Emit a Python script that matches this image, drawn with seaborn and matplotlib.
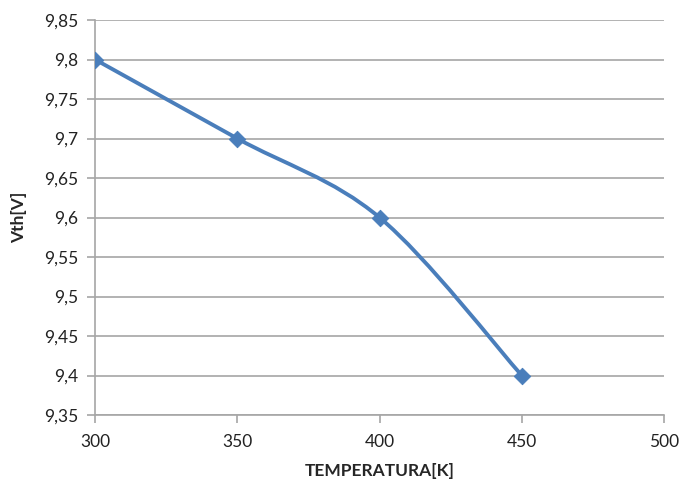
import numpy as np
import pandas as pd
import matplotlib
matplotlib.use("Agg")
import matplotlib.pyplot as plt
import seaborn as sns
from matplotlib.path import Path
from matplotlib.patches import PathPatch
from matplotlib.ticker import FuncFormatter, MultipleLocator

temperatura = [300, 350, 400, 450]
vth = [9.8, 9.7, 9.6, 9.4]

df = pd.DataFrame({"TEMPERATURA[K]": temperatura, "Vth[V]": vth})

sns.set_theme(style="white")
plt.rcParams['font.family'] = ['Lato', 'DejaVu Sans']

azul = "#4a7ebb"
gris = "#a6a6a6"

fig = plt.figure(figsize=(6.79, 4.82), dpi=100)
ax = fig.add_axes([0.140, 0.139, 0.838, 0.8195])

# smoothed line like excel (catmull-rom -> bezier)
pts = np.column_stack([df["TEMPERATURA[K]"], df["Vth[V]"]]).astype(float)
ext = np.vstack([pts[0], pts, pts[-1]])
verts = [tuple(pts[0])]
codes = [Path.MOVETO]
for i in range(1, len(ext) - 2):
    p0, p1, p2, p3 = ext[i - 1], ext[i], ext[i + 1], ext[i + 2]
    c1 = p1 + (p2 - p0) / 6
    c2 = p2 - (p3 - p1) / 6
    verts += [tuple(c1), tuple(c2), tuple(p2)]
    codes += [Path.CURVE4] * 3
ax.add_patch(PathPatch(Path(verts, codes), fill=False, edgecolor=azul,
                       lw=2.8, capstyle="round", joinstyle="round", zorder=3))

sns.scatterplot(data=df, x="TEMPERATURA[K]", y="Vth[V]", ax=ax, marker="D",
                s=70, color=azul, edgecolor=azul, zorder=4)

ax.set_xlim(300, 500)
ax.set_ylim(9.35, 9.85)
ax.xaxis.set_major_locator(MultipleLocator(50))
ax.yaxis.set_major_locator(MultipleLocator(0.05))
fmt = lambda v, p: ("%g" % round(v, 2)).replace(".", ",")
ax.yaxis.set_major_formatter(FuncFormatter(fmt))
ax.xaxis.set_major_formatter(FuncFormatter(lambda v, p: "%d" % v))

ax.grid(axis="y", color=gris, lw=1.2)
ax.set_axisbelow(True)
for s in ["top", "right"]:
    ax.spines[s].set_visible(False)
for s in ["left", "bottom"]:
    ax.spines[s].set_color(gris)
    ax.spines[s].set_linewidth(1.2)

ax.tick_params(axis="both", which="major", length=6, width=1.2, color=gris,
               labelsize=12.5, labelcolor="#222222", direction="out",
               left=True, bottom=True)
ax.tick_params(axis="y", pad=6)
ax.tick_params(axis="x", pad=8)

ax.set_xlabel("TEMPERATURA[K]", fontsize=12.5, fontweight="bold", labelpad=9)
ax.set_ylabel("Vth[V]", fontsize=12.5, fontweight="bold", labelpad=12)

fig.savefig("out.png", dpi=100)
